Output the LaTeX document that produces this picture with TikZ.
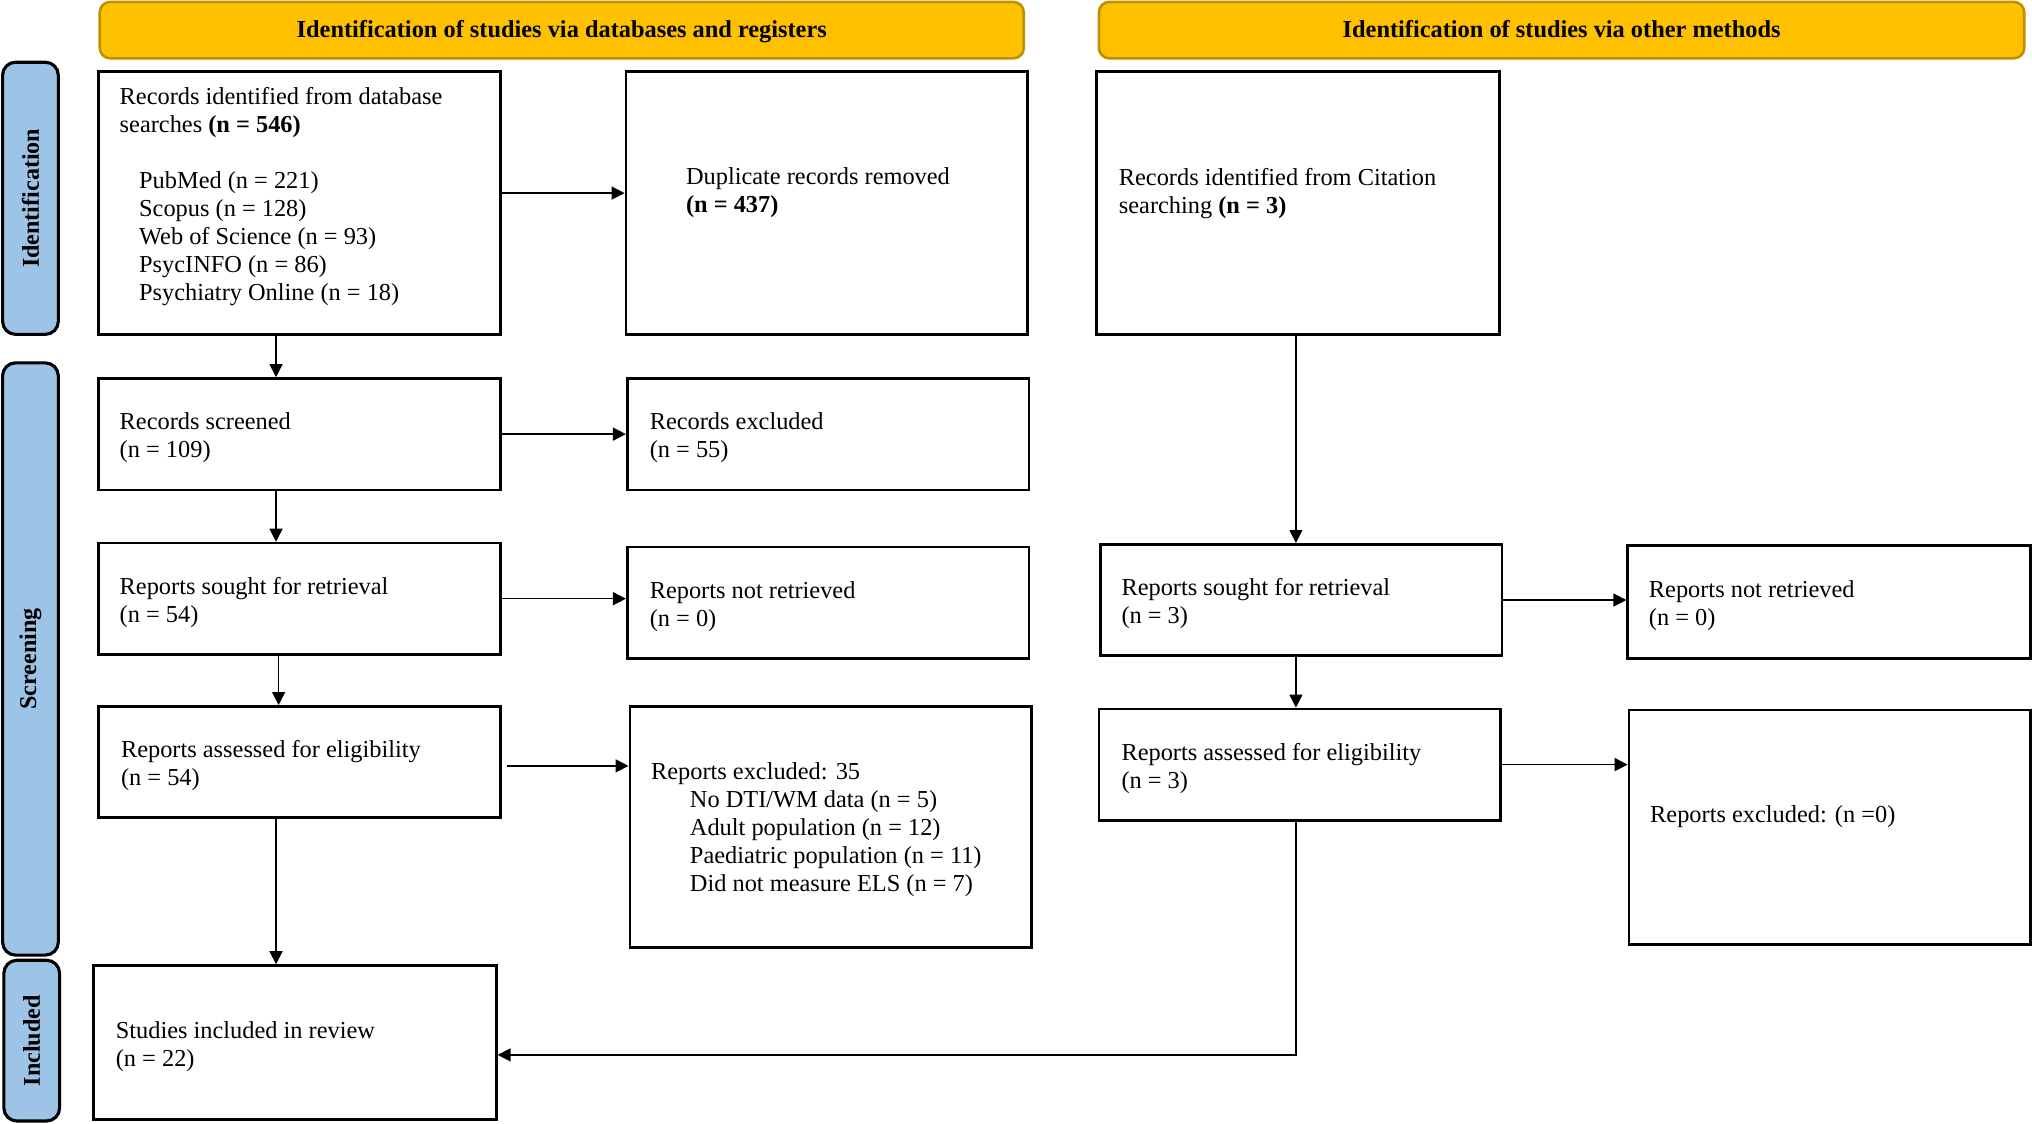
\documentclass[tikz,border=0pt]{standalone}
\usepackage{fontspec}
\setmainfont{Liberation Serif}
\usetikzlibrary{arrows.meta,fit}
\definecolor{hdrfill}{HTML}{FFC000}
\definecolor{hdrline}{HTML}{BF9000}
\definecolor{sidefill}{HTML}{9DC3E6}
\begin{document}
\begin{tikzpicture}[x=0.5pt,y=-0.5pt,
  box/.style={draw=black, line width=1pt, inner sep=0pt},
  txt/.style={font=\fontsize{9.4}{10.8}\selectfont, align=left, inner sep=0pt, anchor=west, yshift=-1pt},
  hdr/.style={draw=hdrline, fill=hdrfill, line width=1pt, rounded corners=4pt, inner sep=0pt},
  hdrtxt/.style={font=\fontsize{9.4}{10.8}\selectfont\bfseries, inner sep=0pt, anchor=base},
  side/.style={draw=black, fill=sidefill, line width=1.2pt, rounded corners=5pt, inner sep=0pt},
  sidetxt/.style={font=\fontsize{9.3}{10.8}\selectfont\bfseries, inner sep=0pt, rotate=90},
  arr/.style={-{Triangle[length=5pt,width=5pt]}, line width=0.55pt}]
\useasboundingbox (0,0) rectangle (1568,867);

% headers
\node[hdr, fit={(77,1.5) (790,45)}] (h1) {};
\node[hdrtxt] (h1t) at ([yshift=-3pt]h1.center) {Identification of studies via databases and registers};
\node[hdr, fit={(848,1.5) (1562,45)}] (h2) {};
\node[hdrtxt] (h2t) at ([yshift=-3pt]h2.center) {Identification of studies via other methods};

% side labels
\node[side, fit={(2,48) (45,258)}] (s1) {};
\node[sidetxt] (s1t) at (s1.center) {Identification};
\node[side, fit={(2,280) (45,737)}] (s2) {};
\node[sidetxt] (s2t) at (s2.center) {Screening};
\node[side, fit={(3,741) (46,865)}] (s3) {};
\node[sidetxt] (s3t) at (s3.center) {Included};

% boxes
\node[box, fit={(76,55) (386,258)}] (A) {};
\node[box, fit={(483,55) (793,258)}] (B) {};
\node[box, fit={(846,55) (1157,258)}] (C) {};
\node[box, fit={(76,292) (386,378)}] (D) {};
\node[box, fit={(484,292) (794,378)}] (E) {};
\node[box, fit={(76,419) (386,505)}] (F) {};
\node[box, fit={(484,422) (794,508)}] (G) {};
\node[box, fit={(849,420) (1159,506)}] (H) {};
\node[box, fit={(1256,421) (1567,508)}] (I) {};
\node[box, fit={(76,545) (386,631)}] (J) {};
\node[box, fit={(486,545) (796,731)}] (K) {};
\node[box, fit={(848,547) (1158,633)}] (L) {};
\node[box, fit={(1257,548) (1567,729)}] (M) {};
\node[box, fit={(72,745) (383,864)}] (N) {};

% texts
\node[txt] (At) at (92,150) {Records identified from database\\
searches \textbf{(n = 546)}\\[10.8pt]
\hspace*{7.5pt}PubMed (n = 221)\\
\hspace*{7.5pt}Scopus (n = 128)\\
\hspace*{7.5pt}Web of Science (n = 93)\\
\hspace*{7.5pt}PsycINFO (n = 86)\\
\hspace*{7.5pt}Psychiatry Online (n = 18)};
\node[txt] (Bt) at (529,147) {Duplicate records removed\\\textbf{(n = 437)}};
\node[txt] (Ct) at (863,147) {Records identified from Citation\\searching \textbf{(n = 3)}};
\node[txt] (Dt) at (92,336) {Records screened\\(n = 109)};
\node[txt] (Et) at (501,336) {Records excluded\\(n = 55)};
\node[txt] (Ft) at (92,463) {Reports sought for retrieval\\(n = 54)};
\node[txt] (Gt) at (501,466) {Reports not retrieved\\(n = 0)};
\node[txt] (Ht) at (865,464) {Reports sought for retrieval\\(n = 3)};
\node[txt] (It) at (1272,465) {Reports not retrieved\\(n = 0)};
\node[txt] (Jt) at (93,589) {Reports assessed for eligibility\\(n = 54)};
\node[txt] (Kt) at (502,638.5) {Reports excluded: 35\\
\hspace*{15pt}No DTI/WM data (n = 5)\\
\hspace*{15pt}Adult population (n = 12)\\
\hspace*{15pt}Paediatric population (n = 11)\\
\hspace*{15pt}Did not measure ELS (n = 7)};
\node[txt] (Lt) at (865,591) {Reports assessed for eligibility\\(n = 3)};
\node[txt] (Mt) at (1273,628) {Reports excluded: (n =0)};
\node[txt] (Nt) at (89,806) {Studies included in review\\(n = 22)};

% connectors
\coordinate (cl) at (213,0);
\coordinate (cr) at (1000,0);
\draw[arr] ([yshift=3.75pt]A.east) -- ([yshift=3.75pt]A.east -| B.west);
\draw[arr] (A.south -| cl) -- (D.north -| cl);
\draw[arr] (D.east) -- (D.east -| E.west);
\draw[arr] (D.south -| cl) -- (F.north -| cl);
\draw[arr] ([xshift=1pt]F.south -| cl) -- ([xshift=1pt]J.north -| cl);
\draw[arr] (F.east) -- (F.east -| G.west);
\draw[arr] ([xshift=2pt,yshift=-1.5pt]J.east) -- ([yshift=-1.5pt]J.east -| K.west);
\draw[arr] (J.south -| cl) -- (N.north -| cl);
\draw[arr] (C.south -| cr) -- (H.north -| cr);
\draw[arr] (H.east) -- (H.east -| I.west);
\draw[arr] (H.south -| cr) -- (L.north -| cr);
\draw[arr] (L.east) -- (L.east -| M.west);
\draw[arr] (L.south -| cr) |- ([yshift=-4.75pt]N.east);
\end{tikzpicture}
\end{document}
